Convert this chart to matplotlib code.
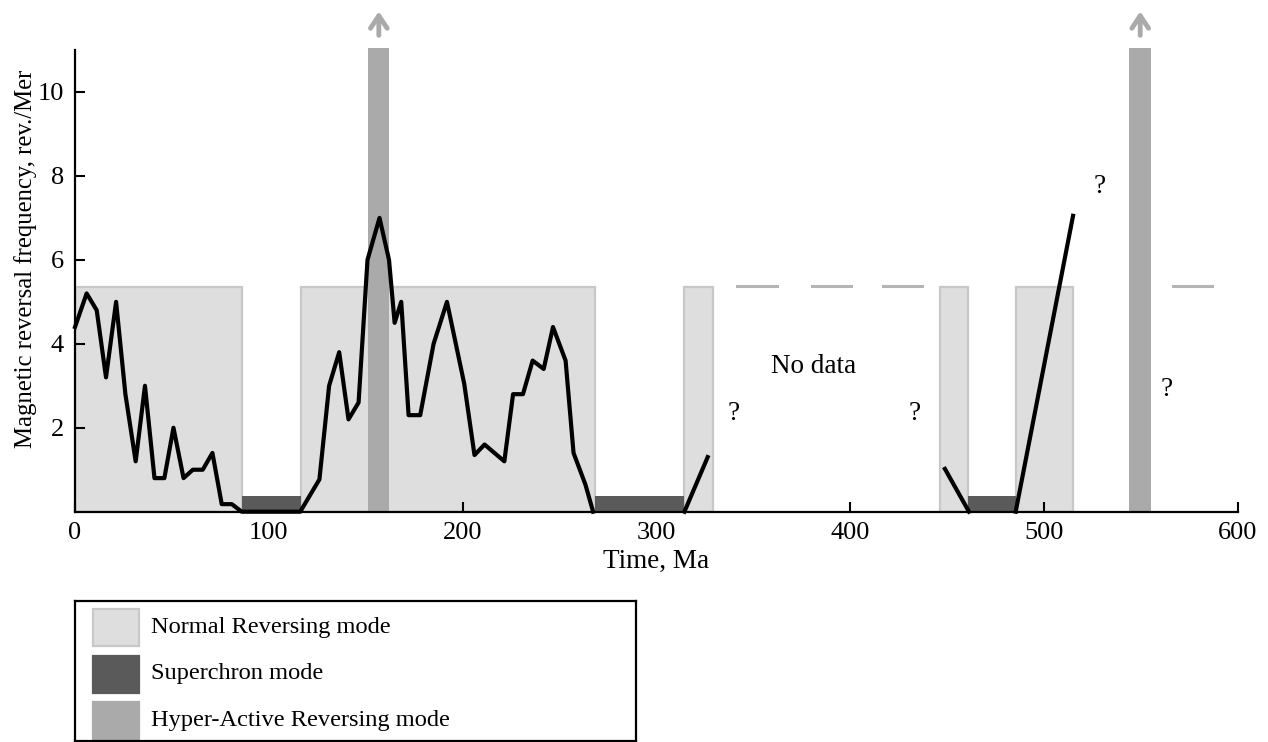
import matplotlib
matplotlib.use("Agg")
import matplotlib.pyplot as plt
from matplotlib.patches import Rectangle

plt.rcParams['font.family'] = ['Liberation Serif', 'DejaVu Serif']

# main reversal frequency curve
curve_x = [0, 6, 11.2, 16, 21.2, 26, 31.3, 36.1, 41, 46.1, 50.8, 56, 60.8, 65.9,
           70.9, 75.7, 80.9, 86, 116.2, 126.1, 131.1, 136.3, 141.1, 146.3, 150.9,
           157.1, 162, 164.9, 168.3, 172.1, 178.1, 185, 191.9, 200.8, 206.1, 211.3,
           221.5, 226, 231.1, 236.1, 241.8, 246.6, 253.1, 257.2, 263.3, 267.3]
curve_y = [4.4, 5.2, 4.8, 3.2, 5.0, 2.8, 1.2, 3.0, 0.8, 0.8, 2.0, 0.8, 1.0, 1.0,
           1.4, 0.18, 0.18, 0, 0, 0.77, 3.0, 3.8, 2.2, 2.6, 6.0,
           7.0, 6.0, 4.5, 5.0, 2.3, 2.3, 4.0, 5.0, 3.05, 1.35, 1.6,
           1.2, 2.8, 2.8, 3.6, 3.4, 4.4, 3.6, 1.4, 0.65, 0]

# short isolated segments
seg_x = [[314.4, 326.4], [448.8, 461.2], [485.3, 514.9]]
seg_y = [[0, 1.3], [1.02, 0], [0, 7.05]]

# mode intervals (Ma)
normal_start = [0, 116.5, 314.4, 446.4, 485.3]
normal_end = [86, 268.1, 329.4, 460.9, 515]
normal_level = 5.35

super_start = [86, 268.5, 460.9]
super_end = [116.5, 314.4, 485.3]
super_level = 0.37

hyper_start = [151.4, 543.8]
hyper_end = [162.1, 555.3]
hyper_level = 11.05

# dashed "no data" level
dash_start = [341.6, 380.3, 417, 566.7]
dash_end = [362, 400.6, 437, 586.8]
dash_level = 5.38

q_x = [339.9, 433.3, 528.8, 563]
q_y = [2.34, 2.34, 7.74, 2.9]

c_normal = '#dedede'
c_normal_edge = '#c8c8c8'
c_super = '#5a5a5a'
c_hyper = '#aaaaaa'

fig = plt.figure(figsize=(12.68, 7.42), dpi=100)
ax = fig.add_axes([75 / 1268, 1 - 511.7 / 742, 1163 / 1268, 461.7 / 742])

fs_tick = 19
fs_note = 19.5

for s, e in zip(normal_start, normal_end):
    ax.add_patch(Rectangle((s, 0), e - s, normal_level, facecolor=c_normal,
                           edgecolor=c_normal_edge, lw=1.6, zorder=1))
for s, e in zip(super_start, super_end):
    ax.add_patch(Rectangle((s, 0), e - s, super_level, facecolor=c_super,
                           edgecolor='none', zorder=2))
for s, e in zip(hyper_start, hyper_end):
    ax.add_patch(Rectangle((s, 0), e - s, hyper_level, facecolor=c_hyper,
                           edgecolor='none', zorder=2, clip_on=False))
    xc = (s + e) / 2
    ax.annotate('', xy=(xc, 11.92), xytext=(xc, 11.35), annotation_clip=False,
                arrowprops=dict(arrowstyle='->,head_length=0.9,head_width=0.6',
                                color=c_hyper, lw=3.5, shrinkA=0, shrinkB=0))

for s, e in zip(dash_start, dash_end):
    ax.plot([s, e], [dash_level, dash_level], color='#b4b4b4', lw=2.2, zorder=2)

ax.plot(curve_x, curve_y, color='black', lw=3, zorder=4, clip_on=False)
for sx, sy in zip(seg_x, seg_y):
    ax.plot(sx, sy, color='black', lw=3, zorder=4, clip_on=False)

for x, y in zip(q_x, q_y):
    ax.text(x, y, '?', fontsize=fs_note, ha='center', va='center')
ax.text(380.8, 3.45, 'No data', fontsize=fs_note, ha='center', va='center')

ax.set_xlim(0, 600)
ax.set_ylim(0, 11)
ax.set_xticks([0, 100, 200, 300, 400, 500, 600])
ax.set_yticks([2, 4, 6, 8, 10])
ax.spines['top'].set_visible(False)
ax.spines['right'].set_visible(False)
ax.spines['left'].set_linewidth(1.6)
ax.spines['bottom'].set_linewidth(1.6)
ax.tick_params(direction='in', length=7, width=1.5, labelsize=fs_tick)
ax.tick_params(axis='x', pad=7.4)
ax.tick_params(axis='y', pad=8)
ax.set_xlabel('Time, Ma', fontsize=19.5)
ax.xaxis.set_label_coords(0.5, -0.0808)
ax.set_ylabel('Magnetic reversal frequency, rev./Mer', fontsize=17.8)
ax.yaxis.set_label_coords(-0.0327, 0.547)

# legend box drawn by hand
lax = fig.add_axes([75 / 1268, 1 / 742, 561 / 1268, 140 / 742])
lax.set_xlim(0, 561)
lax.set_ylim(140, 0)
lax.set_xticks([])
lax.set_yticks([])
for sp in lax.spines.values():
    sp.set_linewidth(1.6)

leg_labels = ['Normal Reversing mode', 'Superchron mode', 'Hyper-Active Reversing mode']
leg_face = [c_normal, c_super, c_hyper]
leg_edge = [c_normal_edge, c_super, c_hyper]
for i, (lab, fc, ec) in enumerate(zip(leg_labels, leg_face, leg_edge)):
    top = 8 + i * 46.5
    lax.add_patch(Rectangle((18, top), 46, 37, facecolor=fc, edgecolor=ec, lw=1.6))
    lax.text(76, top + 18.5, lab, fontsize=17.6, va='center', ha='left')

fig.savefig('out.png', dpi=100)
